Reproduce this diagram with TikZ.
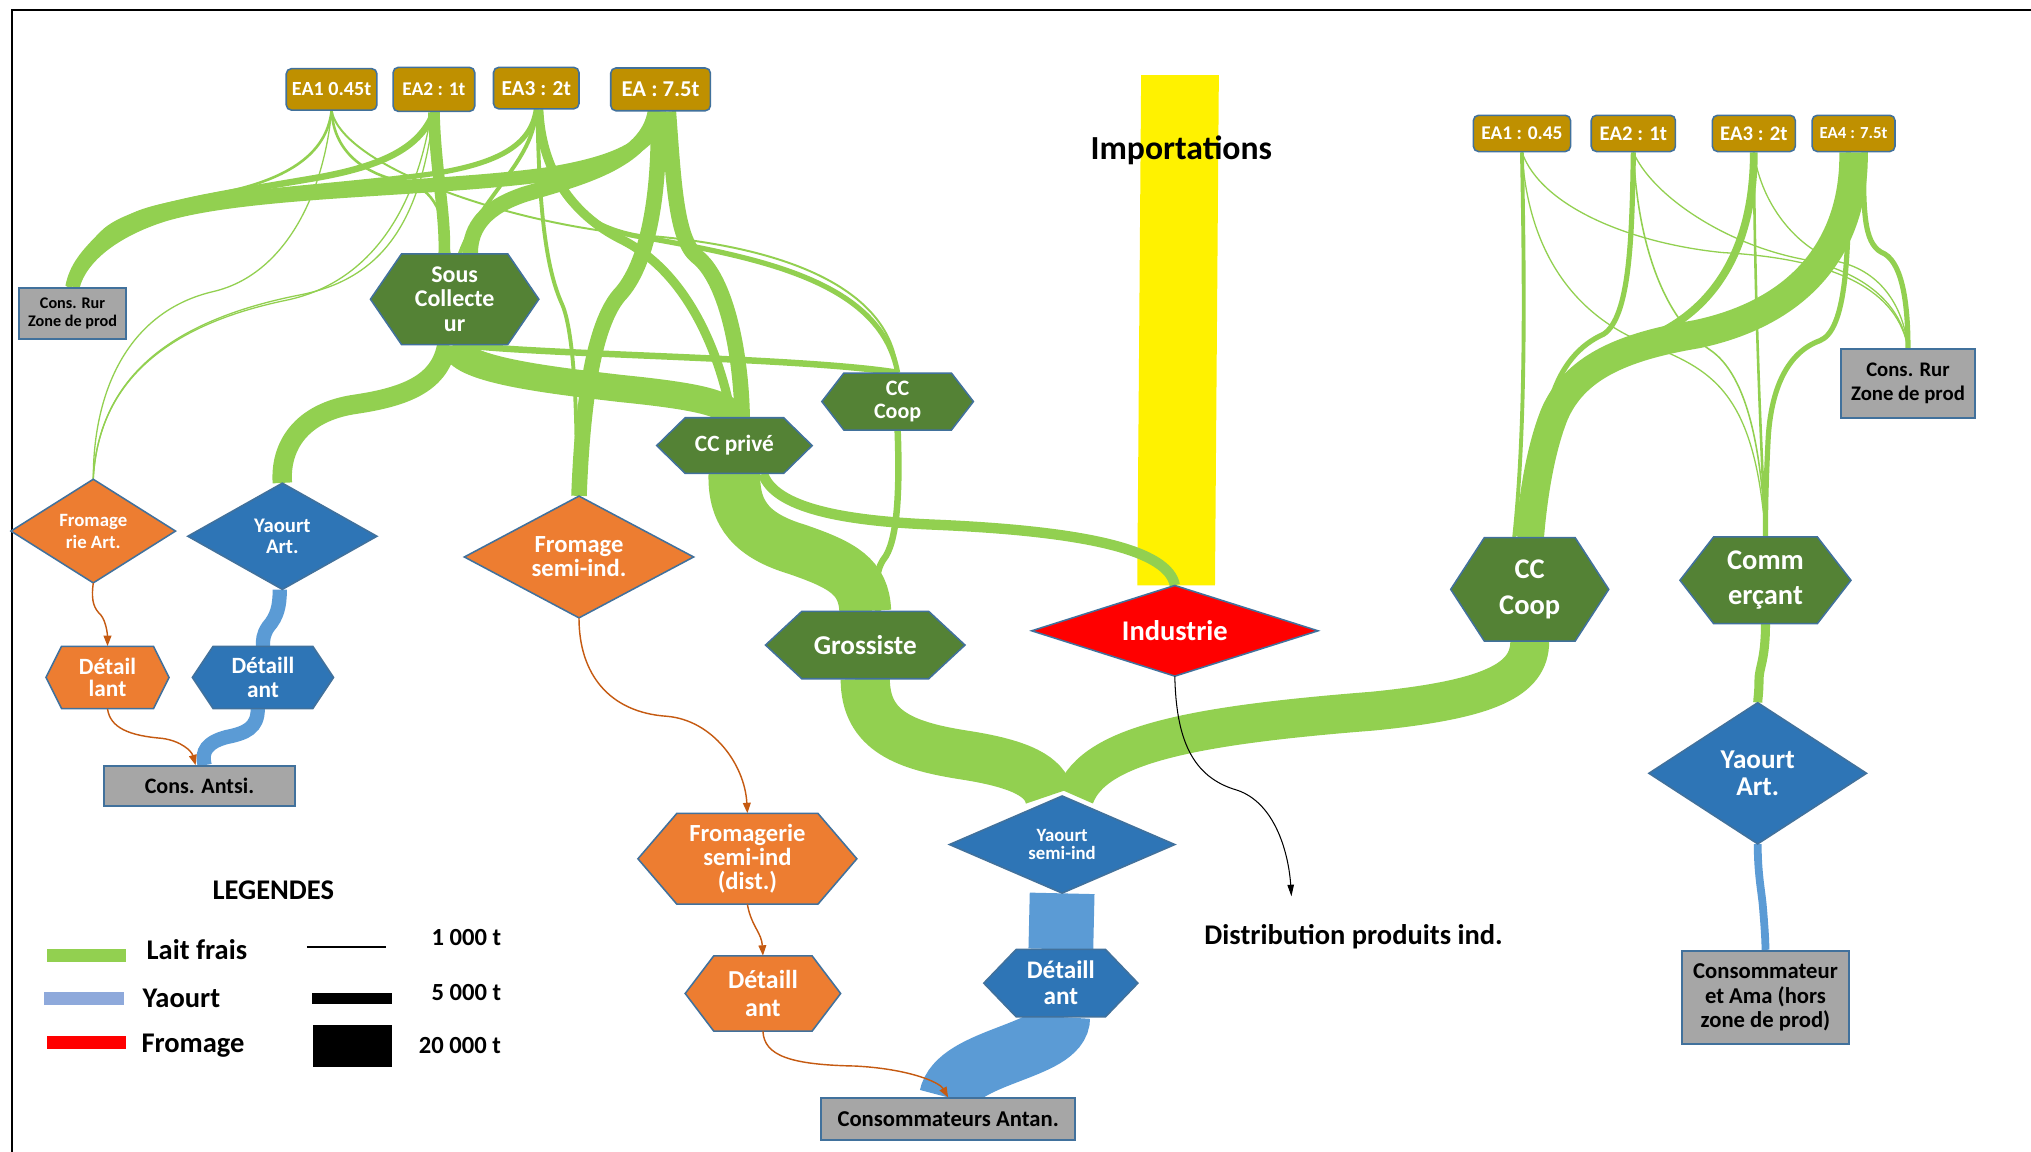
\documentclass[tikz,border=0pt]{standalone}
\usepackage{fontspec}
\setmainfont{Carlito}
\usetikzlibrary{arrows.meta}
\definecolor{lait}{HTML}{92D050}
\definecolor{dgreen}{HTML}{548235}
\definecolor{orng}{HTML}{ED7D31}
\definecolor{dblue}{HTML}{2E75B6}
\definecolor{lblue}{HTML}{5B9BD5}
\definecolor{gold}{HTML}{BF9000}
\definecolor{gray6}{HTML}{A6A6A6}
\definecolor{bord}{HTML}{41719C}
\definecolor{arrorange}{HTML}{C55A11}
\definecolor{yleg}{HTML}{8EA9DB}
\pgfdeclarelayer{bg}
\pgfdeclarelayer{fl}
\pgfsetlayers{bg,fl,main}
\newcommand\fs[2]{\fontsize{#1}{#2}\selectfont\bfseries}
\newcommand\hexn[9]{%
  \filldraw[fill=#7,draw=bord,line width=1.2]
    ({#2-#4/2},{#3}) -- ({#2-#4/2+#6},{#3-#5/2}) -- ({#2+#4/2-#6},{#3-#5/2})
    -- ({#2+#4/2},{#3}) -- ({#2+#4/2-#6},{#3+#5/2}) -- ({#2-#4/2+#6},{#3+#5/2}) -- cycle;
  \node[lab,minimum width=#4pt,minimum height=#5pt,font=#8] (#1) at (#2,#3) {#9};}
\newcommand\diamn[8]{%
  \filldraw[fill=#6,draw=bord,line width=1.2]
    ({#2-#4/2},{#3}) -- ({#2},{#3-#5/2}) -- ({#2+#4/2},{#3}) -- ({#2},{#3+#5/2}) -- cycle;
  \node[lab,minimum width=#4pt,minimum height=#5pt,font=#7] (#1) at (#2,#3) {#8};}
\tikzset{
 lab/.style={shape=rectangle,inner sep=0pt,text=white,align=center},
 ea/.style={draw=bord,line width=1.2,fill=gold,rounded corners=4pt,text=white,inner sep=0pt,align=center},
 gbox/.style={draw=bord,line width=1.5,fill=gray6,text=black,inner sep=0pt,align=center},
 flow/.style={draw=lait,line cap=butt},
 yflow/.style={draw=lblue,line cap=butt},
 oarr/.style={draw=arrorange,line width=1.1,-{Triangle[length=8pt,width=6pt]}},
 barr/.style={draw=black,line width=0.8,-{Triangle[length=9pt,width=5pt]}},
 txt/.style={inner sep=0pt,text=black,align=center}
}
\begin{document}
\begin{tikzpicture}[x=1pt,y=-1pt]
\useasboundingbox (0,0) rectangle (1568,889);
\begin{pgfonlayer}{bg}
\fill[white] (0,0) rectangle (1568,889);
\fill[yellow] (881,58) -- (941,58) -- (938,452) -- (878,452) -- cycle;
\end{pgfonlayer}
\draw[line width=1.5] (9,889) -- (9,8) -- (1568,8);
\node[txt,font=\fs{26}{28}] (imp) at (912,116) {Importations};

% EA boxes
\node[ea,minimum width=70pt,minimum height=32pt,font=\fs{15.5}{16}] (eaL1) at (256,69) {EA1 0.45t};
\node[ea,minimum width=63pt,minimum height=34pt,font=\fs{15}{16}] (eaL2) at (335,69) {EA2 : 1t};
\node[ea,minimum width=66pt,minimum height=32pt,font=\fs{16.5}{17}] (eaL3) at (414,68) {EA3 : 2t};
\node[ea,minimum width=77pt,minimum height=33pt,font=\fs{17.5}{18}] (eaL4) at (510,69) {EA : 7.5t};
\node[ea,minimum width=75pt,minimum height=28pt,font=\fs{15}{16}] (eaR1) at (1175,103) {EA1 : 0.45};
\node[ea,minimum width=65pt,minimum height=28pt,font=\fs{16}{17}] (eaR2) at (1261,103) {EA2 : 1t};
\node[ea,minimum width=64pt,minimum height=28pt,font=\fs{16}{17}] (eaR3) at (1354,103) {EA3 : 2t};
\node[ea,minimum width=64pt,minimum height=28pt,font=\fs{13}{14}] (eaR4) at (1431,103) {EA4 : 7.5t};

% gray boxes
\node[gbox,minimum width=82pt,minimum height=40pt,font=\fs{12.5}{13.5}] (rurL) at (56,242) {Cons. Rur\\Zone de prod};
\node[gbox,minimum width=103pt,minimum height=53pt,font=\fs{16}{19}] (rurR) at (1473,296) {Cons. Rur\\Zone de prod};
\node[gbox,minimum width=148pt,minimum height=31pt,font=\fs{17}{18}] (antsi) at (154,607) {Cons. Antsi.};
\node[gbox,minimum width=196pt,minimum height=32pt,font=\fs{17.5}{18}] (antan) at (732,864) {Consommateurs Antan.};
\node[gbox,minimum width=129pt,minimum height=72pt,font=\fs{17.5}{19}] (ama) at (1363,770) {Consommateur\\et Ama (hors\\zone de prod)};

% hexagons
\hexn{souscol}{351}{231}{130}{70}{24}{dgreen}{\fs{18.5}{19}}{Sous\\Collecte\\ur}
\hexn{ccpriv}{567}{344}{120}{43}{22}{dgreen}{\fs{18}{19}}{CC privé}
\hexn{ccoopT}{693}{310}{117}{44}{17}{dgreen}{\fs{17}{18}}{CC\\Coop}
\hexn{gross}{668}{498}{154}{52}{28}{dgreen}{\fs{21}{22}}{Grossiste}
\hexn{ccoopR}{1181}{455}{122}{80}{26}{dgreen}{\fs{22}{28}}{CC\\Coop}
\hexn{comm}{1363}{448}{132}{67}{26}{dgreen}{\fs{22}{27}}{Comm\\erçant}
\hexn{detL}{83}{523}{95}{48}{12}{orng}{\fs{18}{17.5}}{Détail\\lant}
\hexn{detLB}{203}{523}{109}{48}{16}{dblue}{\fs{18}{18}}{Détaill\\ant}
\hexn{fromsid}{577}{663}{169}{70}{30}{orng}{\fs{19}{18.5}}{Fromagerie\\semi-ind\\(dist.)}
\hexn{detO}{589}{767}{120}{58}{22}{orng}{\fs{20}{22}}{Détaill\\ant}
\hexn{detB}{819}{759}{119}{52}{25}{dblue}{\fs{19.5}{20}}{Détaill\\ant}

% diamonds
\diamn{fromArt}{72}{410}{127}{80}{orng}{\fs{14.5}{17}}{Fromage\\rie Art.}
\diamn{yaoArt}{218}{414}{146}{82}{dblue}{\fs{16}{16}}{Yaourt\\Art.}
\diamn{fromSI}{447}{430}{177}{94}{orng}{\fs{19}{18.5}}{Fromage\\semi-ind.}
\diamn{indus}{907}{487}{221}{70}{red}{\fs{22}{22}}{Industrie}
\diamn{yaoSI}{820}{652}{174}{75}{dblue}{\fs{14.5}{14}}{Yaourt\\semi-ind}
\diamn{yaoArtR}{1357}{597}{168}{109}{dblue}{\fs{21}{20.5}}{Yaourt\\Art.}

\node[txt,font=\fs{22}{24}] (distr) at (1045,723) {Distribution produits ind.};
\coordinate (distend) at (997,692);

% legend
\node[txt,font=\fs{22}{24}] (legt) at (211,687) {LEGENDES};
\fill[lait] (36,733) rectangle (97,743);
\node[txt,font=\fs{22}{24}] (legl) at (152,733) {Lait frais};
\fill[yleg] (34,766) rectangle (96,776);
\node[txt,font=\fs{22}{24}] (legy) at (140,771) {Yaourt};
\fill[red] (36,800) rectangle (97,810);
\node[txt,font=\fs{22}{24}] (legf) at (149,807) {Fromage};
\draw[line width=1] (237,731) -- (298,731);
\fill[black] (241,767) rectangle (303,775);
\fill[black] (242,791) rectangle (303,824);
\node[txt,font=\fs{19}{20}] (leg1) at (360,724) {1 000 t};
\node[txt,font=\fs{19}{20}] (leg5) at (360,766) {5 000 t};
\node[txt,font=\fs{19}{20}] (leg20) at (355,807) {20 000 t};

\begin{pgfonlayer}{fl}
% ---- left cluster -> Cons. Rur
\draw[flow,line width=11] (eaL4.south) .. controls (505,112) and (478,126) .. (420,135) .. controls (330,147) and (190,146) .. (125,166) .. controls (88,178) and (62,198) .. (rurL.north);
\draw[flow,line width=4] (eaL3.south) .. controls (410,112) and (385,126) .. (335,134) .. controls (250,146) and (130,150) .. (100,168) .. controls (75,182) and (58,200) .. ([xshift=-2pt]rurL.north);
\draw[flow,line width=5] (eaL2.south) .. controls (325,112) and (300,128) .. (240,138) .. controls (170,150) and (100,160) .. (80,180) .. controls (65,195) and (56,205) .. ([xshift=-3pt]rurL.north);
\draw[flow,line width=2] (eaL1.south) .. controls (252,120) and (220,140) .. (165,150) .. controls (100,160) and (66,190) .. ([xshift=-4pt]rurL.north);
% ---- -> Sous Collecteur
\draw[flow,line width=9] (eaL2.south) .. controls (336,130) and (344,165) .. ([xshift=-8pt]souscol.north);
\draw[flow,line width=12] ([xshift=-4pt]eaL4.south) .. controls (500,125) and (445,138) .. (405,150) .. controls (375,160) and (363,175) .. ([xshift=12pt]souscol.north);
\draw[flow,line width=2] (eaL1.south) .. controls (258,120) and (285,136) .. (315,141) .. controls (340,148) and (343,175) .. ([xshift=-4pt]souscol.north);
\draw[flow,line width=3] (eaL3.south) .. controls (412,125) and (372,150) .. ([xshift=4pt]souscol.north);
% ---- -> CC prive
\draw[flow,line width=12] ([xshift=6pt]eaL4.south) .. controls (520,140) and (522,185) .. (538,198) .. controls (560,215) and (572,270) .. ([xshift=6pt]ccpriv.north);
\draw[flow,line width=7] ([xshift=2pt]eaL3.south) .. controls (418,130) and (440,165) .. (480,185) .. controls (530,210) and (555,270) .. ([xshift=-2pt]ccpriv.north);
% ---- -> CC Coop (top)
\draw[flow,line width=4] ([xshift=3pt]eaL3.south) .. controls (420,140) and (440,172) .. (490,182) .. controls (580,198) and (680,215) .. (ccoopT.north);
\draw[flow,line width=1.5] (eaL1.south) .. controls (265,130) and (400,175) .. (500,182) .. controls (600,190) and (688,220) .. (ccoopT.north);
\draw[flow,line width=5] ([xshift=5pt]souscol.south) .. controls (420,274) and (620,276) .. (ccoopT.north);
% ---- Sous Collecteur outputs
\draw[flow,line width=21] (souscol.south) .. controls (352,285) and (420,293) .. (480,300) .. controls (540,306) and (565,312) .. ([xshift=-4pt]ccpriv.north);
\draw[flow,line width=15] ([xshift=-6pt]souscol.south) .. controls (340,295) and (315,306) .. (275,312) .. controls (232,318) and (216,345) .. (yaoArt.north);
% ---- -> Fromage semi-ind
\draw[flow,line width=12] ([xshift=-2pt]eaL4.south) .. controls (510,150) and (500,205) .. (478,228) .. controls (455,255) and (449,330) .. (fromSI.north);
\draw[flow,line width=3] ([xshift=1pt]eaL3.south) .. controls (416,180) and (425,215) .. (434,235) .. controls (444,258) and (446,330) .. ([xshift=-2pt]fromSI.north);
% ---- -> Fromagerie Art (thin)
\draw[flow,line width=1] (eaL1.south) .. controls (250,150) and (220,212) .. (165,225) .. controls (100,240) and (72,300) .. (fromArt.north);
\draw[flow,line width=1] (eaL2.south) .. controls (325,165) and (300,215) .. (230,228) .. controls (120,250) and (76,300) .. (fromArt.north);
\draw[flow,line width=1] ([xshift=-2pt]eaL2.south) .. controls (320,170) and (280,220) .. (220,232) .. controls (110,255) and (75,310) .. (fromArt.north);
% ---- CC prive outputs
\draw[flow,line width=8] ([xshift=22pt]ccpriv.south) .. controls (598,392) and (650,402) .. (720,405) .. controls (840,410) and (902,425) .. (indus.north);
\draw[flow,line width=40] (ccpriv.south) .. controls (566,398) and (582,414) .. (615,424) .. controls (650,436) and (667,445) .. (gross.north);
% ---- CC Coop top -> Grossiste
\draw[flow,line width=5] (ccoopT.south) .. controls (695,385) and (692,420) .. (682,432) .. controls (675,442) and (676,460) .. ([xshift=10pt]gross.north);
% ---- -> Yaourt semi-ind
\draw[flow,line width=38] (gross.south) .. controls (668,565) and (700,576) .. (745,583) .. controls (790,590) and (806,600) .. ([xshift=-10pt]yaoSI.north);
\draw[flow,line width=30] (ccoopR.south) .. controls (1181,525) and (1150,540) .. (1060,549) .. controls (920,560) and (845,575) .. ([xshift=10pt]yaoSI.north);
% ---- Comm -> Yaourt Art (right)
\draw[flow,line width=7] (comm.south) .. controls (1363,510) and (1358,515) .. (1358,525) .. controls (1358,535) and (1357,540) .. (yaoArtR.north);
% ---- right cluster -> CC Coop
\draw[flow,line width=22] (eaR4.south) .. controls (1432,185) and (1395,240) .. (1310,258) .. controls (1250,268) and (1215,285) .. (1200,320) .. controls (1188,350) and (1183,390) .. (ccoopR.north);
\draw[flow,line width=6] (eaR3.south) .. controls (1354,190) and (1325,240) .. (1270,262) .. controls (1220,282) and (1190,330) .. ([xshift=-4pt]ccoopR.north);
\draw[flow,line width=4] (eaR2.south) .. controls (1260,185) and (1258,245) .. (1238,258) .. controls (1220,266) and (1205,282) .. (1197,310) .. controls (1188,345) and (1185,390) .. ([xshift=-8pt]ccoopR.north);
\draw[flow,line width=3] (eaR1.south) .. controls (1177,220) and (1178,330) .. ([xshift=-12pt]ccoopR.north);
% ---- right cluster -> Commercant
\draw[flow,line width=4] ([xshift=-4pt]eaR4.south) .. controls (1428,200) and (1425,255) .. (1405,263) .. controls (1380,272) and (1367,300) .. (1365,340) .. controls (1363,380) and (1363,400) .. (comm.north);
\draw[flow,line width=2] (eaR3.south) .. controls (1355,250) and (1360,350) .. (comm.north);
\draw[flow,line width=1.2] (eaR2.south) .. controls (1265,200) and (1290,250) .. (1320,270) .. controls (1350,290) and (1360,350) .. (comm.north);
\draw[flow,line width=1] (eaR1.south) .. controls (1180,200) and (1220,245) .. (1270,265) .. controls (1320,285) and (1355,300) .. (comm.north);
% ---- right cluster -> Cons. Rur
\draw[flow,line width=4] ([xshift=8pt]eaR4.south) .. controls (1438,170) and (1440,190) .. (1455,196) .. controls (1470,205) and (1473,240) .. (rurR.north);
\draw[flow,line width=1] (eaR3.south) .. controls (1360,160) and (1390,195) .. (1423,203) .. controls (1455,212) and (1470,240) .. (rurR.north);
\draw[flow,line width=1] (eaR2.south) .. controls (1275,150) and (1330,188) .. (1391,200) .. controls (1440,210) and (1468,235) .. (rurR.north);
\draw[flow,line width=1] (eaR1.south) .. controls (1190,160) and (1260,188) .. (1330,195) .. controls (1420,200) and (1465,225) .. (rurR.north);
% ---- yaourt flows
\draw[yflow,line width=11] ([xshift=-2pt]yaoArt.south) .. controls (216,468) and (214,476) .. (207,484) .. controls (203,490) and (203,494) .. (detLB.north);
\draw[yflow,line width=11] ([xshift=-4pt]detLB.south) .. controls (199,562) and (190,566) .. (175,569) .. controls (160,573) and (155,580) .. ([xshift=4pt]antsi.north);
\draw[yflow,line width=50] (yaoSI.south) -- (detB.north);
\draw[yflow,line width=45] (detB.south) .. controls (820,812) and (738,815) .. (antan.north);
\draw[yflow,line width=6] (yaoArtR.south) .. controls (1357,675) and (1360,688) .. (1361,700) .. controls (1362,712) and (1363,725) .. (ama.north);
\end{pgfonlayer}

% ---- fromage arrows
\draw[oarr] (fromArt.south) .. controls (70,465) and (73,470) .. (78,475) .. controls (82,480) and (83,490) .. (detL.north);
\draw[oarr] (detL.south) .. controls (85,562) and (100,568) .. (125,570) .. controls (140,572) and (148,580) .. ([xshift=-3pt]antsi.north);
\draw[oarr] (fromSI.south) .. controls (447,520) and (470,550) .. (515,553) .. controls (550,556) and (575,590) .. (fromsid.north);
\draw[oarr] (fromsid.south) .. controls (580,715) and (588,720) .. (detO.north);
\draw[oarr] (detO.south) .. controls (590,815) and (610,822) .. (660,823) .. controls (700,825) and (725,835) .. (antan.north);
% ---- industrie distribution
\draw[barr] (indus.south) .. controls (908,570) and (920,600) .. (955,610) .. controls (985,620) and (995,660) .. (distend);
\end{tikzpicture}
\end{document}
